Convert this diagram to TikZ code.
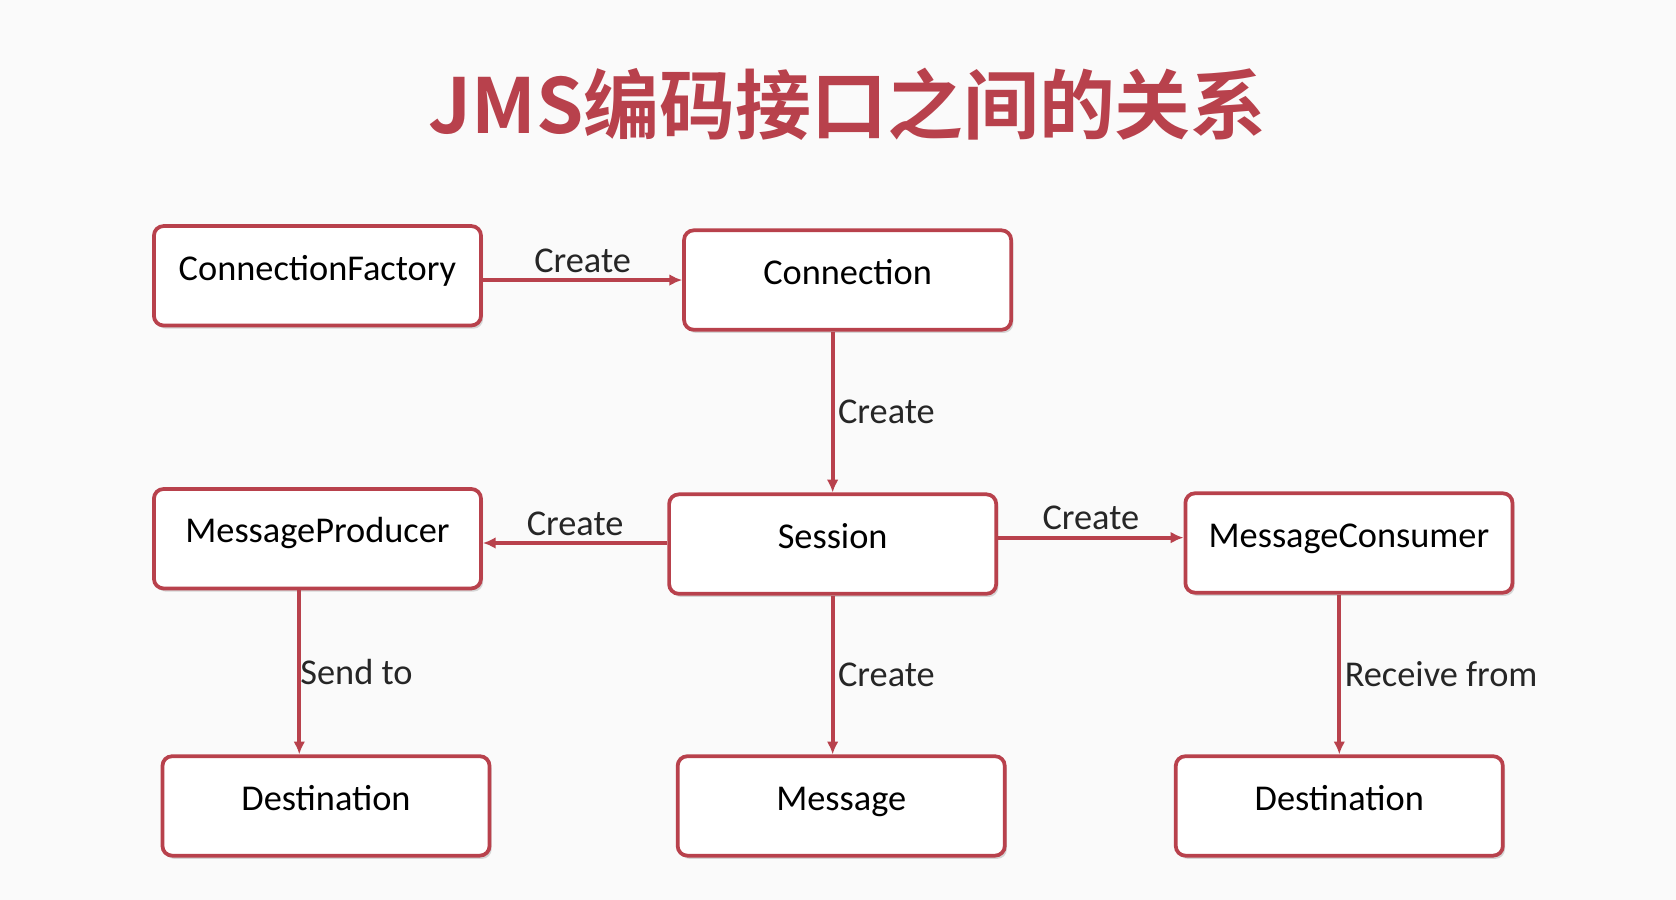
\documentclass[tikz,border=0pt]{standalone}
\usepackage{fontspec}
\setmainfont{Carlito}
\newfontfamily\cjk{Noto Sans CJK SC}[BoldFont={Noto Sans CJK SC Bold}]
\usetikzlibrary{shadows,arrows.meta}
\definecolor{jred}{HTML}{B8414C}
\definecolor{bg}{HTML}{FAFAFA}
\begin{document}
\begin{tikzpicture}[x=1pt,y=-1pt,
  box/.style={draw=jred,line width=3.5pt,rounded corners=9pt,fill=white,minimum width=306pt,minimum height=93pt,text height=17pt,text depth=9pt,font=\fontsize{34}{40}\selectfont,drop shadow={shadow xshift=2pt,shadow yshift=-3pt,opacity=0.3}},
  arr/.style={draw=jred,line width=3.5pt,-{Latex[length=12pt,width=11pt]}},
  lbl/.style={font=\fontsize{34}{40}\selectfont,text=black!85}]
\fill[bg] (0,0) rectangle (1568,842);
\useasboundingbox (0,0) rectangle (1568,842);
\node[font=\cjk\bfseries\fontsize{71}{76}\selectfont,text=jred] (title) at (793,98) {JMS编码接口之间的关系};
\node[box] (cf) at (297,258) {ConnectionFactory};
\node[box] (cn) at (793,262) {Connection};
\node[box] (mp) at (297,504) {MessageProducer};
\node[box] (se) at (779,509) {Session};
\node[box] (mc) at (1262,508) {MessageConsumer};
\node[box] (d1) at (305,754) {Destination};
\node[box] (ms) at (787,754) {Message};
\node[box] (d2) at (1253,754) {Destination};
\coordinate (a1) at (cn.west|-0,262);
\draw[arr] (cf.east|-0,262) -- (a1) node[lbl,midway,above=2pt] {Create};
\draw[arr] (779,0|-cn.south) -- (779,0|-se.north) node[lbl,midway,right=0pt] {Create};
\draw[arr] (se.west|-0,508) -- (mp.east|-0,508) node[lbl,midway,above=2pt] {Create};
\draw[arr] (se.east|-0,503) -- (mc.west|-0,503) node[lbl,midway,above=2pt] {Create};
\draw[arr] (280,0|-mp.south) -- (280,0|-d1.north) node[lbl,midway,right=-4pt] {Send to};
\draw[arr] (779,0|-se.south) -- (779,0|-ms.north) node[lbl,midway,right=0pt] {Create};
\draw[arr] (1253,0|-mc.south) -- (1253,0|-d2.north) node[lbl,midway,right=0pt] {Receive from};
\end{tikzpicture}
\end{document}
